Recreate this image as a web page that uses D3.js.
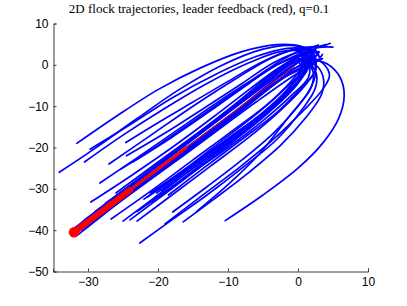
<!DOCTYPE html>
<html><head><meta charset="utf-8">
<script src="https://cdn.jsdelivr.net/npm/d3@7"></script>
<style>body{margin:0;background:#fff}</style>
</head><body>
<svg id="c" width="407" height="306"></svg>
<script>
// ---- data ----
const titleText = "2D flock trajectories, leader feedback (red), q=0.1";
const xTicks = [-30, -20, -10, 0, 10];
const yTicks = [10, 0, -10, -20, -30, -40, -50];
const xDomain = [-35, 10];
const yDomain = [-50, 10];

const leaderPath = [[-32,-40.5],[-28,-35.4],[-24,-30.3],[-20,-25.2],[-16,-20.1],[-12,-15],[-8,-9.9],[-4,-4.8],[-0.5,-0.4]];

const upperPaths = [
  [[-31.6,-19],[-26,-12.5],[-20,-6],[-14,-0.8],[-8,3.2],[-3,4.9],[0.5,4.4],[2,2.5],[1.5,0.5]],
  [[-34.1,-26],[-29,-20.2],[-23,-13],[-17,-6],[-11,-0.2],[-5,3.8],[-1,4.7],[2,3.3],[2.5,1]],
  [[-29.7,-20.4],[-24,-14.5],[-18,-8],[-12,-2.5],[-6,2],[-1.5,4],[1.5,3.6],[2.5,1.8]],
  [[-24.6,-18.8],[-20,-14],[-15,-9],[-10,-4],[-5,0.8],[-1,3.5],[2,3.6],[3,2]],
  [[-28.3,-28.6],[-23,-22.5],[-17,-15.5],[-11,-8.5],[-6,-3],[-2,1.5],[1,3.8],[3.5,4.5],[4.6,5.2]],
  [[-29.6,-33.2],[-24,-27],[-18,-20],[-12,-12.5],[-7,-6],[-3,-1],[0.5,2.5],[3,4.2],[5,4.3]],
  [[-25.3,-25.2],[-20,-19.5],[-14,-12.5],[-8,-5.5],[-3,0],[0,2.5],[2,4.2],[2.9,4.8]],
  [[-24.5,-22],[-19,-16.5],[-13,-10],[-8,-4.5],[-3.5,0.5],[0,3],[2.5,3.5],[3,2]],
  [[-23.6,-23.5],[-18,-17.5],[-12,-10.5],[-7,-4.5],[-3,0],[0,2],[2,2],[1.5,0.5]],
  [[-27,-24],[-21,-17],[-15,-10],[-9,-3.5],[-4,1.5],[0,4],[3,4.5],[4,4.9]],
  [[-30.5,-23.5],[-25,-17],[-19,-10.5],[-13,-4.5],[-7,0.5],[-2.5,3.2],[1,3],[2,1]]
];

const lowerPaths = [
  [[-10.4,-37.7],[-5,-31.5],[0,-25],[3.5,-19],[5.8,-13],[6.6,-7.5],[6,-3],[4.2,0.2],[1.5,1.5]],
  [[-16.4,-38],[-12,-32.5],[-7,-26],[-2.5,-19.5],[1,-13],[3.4,-7],[3.6,-3],[2.5,0],[0.5,1]],
  [[-22.6,-43.1],[-18,-37.5],[-13,-31.5],[-8,-25],[-3,-18],[0.5,-11],[2.5,-5.5],[2.5,-1.5],[1,0.5]],
  [[-17.9,-35.6],[-13,-29.5],[-8,-23],[-3.5,-16.5],[0,-10],[2,-5],[2,-1],[0.5,1]],
  [[-20.9,-33.1],[-15.5,-26.5],[-10,-20],[-5,-13.5],[-1,-7.5],[1.5,-3],[1.5,0.5],[0,1.5]],
  [[-21.1,-31],[-16,-25],[-11,-18.5],[-6,-12],[-2,-6],[0.5,-1.5],[0.5,1]],
  [[-20.2,-31],[-15,-24.5],[-10,-18],[-5,-11.5],[-1.5,-6],[1,-1],[1.5,2]],
  [[-23,-35.5],[-18,-29.5],[-13,-23],[-8,-16.5],[-3.5,-10],[0,-4],[1,0],[0,1.5]],
  [[-24,-37.5],[-19,-31.2],[-14,-24.8],[-9,-18.2],[-4.5,-12],[-1,-6],[1,-1.5],[1.5,2]],
  [[-25,-37.8],[-20,-31.5],[-15,-25],[-10,-18.5],[-5,-12],[-1.5,-6],[0.5,-1],[0,1]],
  [[-26.7,-37.3],[-21,-30.5],[-15,-23],[-9,-15.5],[-4,-9],[-0.5,-3],[1,1],[0.5,2]],
  [[-23,-37.8],[-18,-31.5],[-12.5,-24.5],[-7,-17.5],[-2.5,-11],[1,-5],[2.5,-1],[2,1.5]],
  [[-14.5,-35.5],[-10,-29],[-5.5,-21.5],[-1.5,-13],[1.5,-6.5],[2.5,-2],[1.5,1]],
  [[-19,-38.5],[-14,-32],[-8.5,-25],[-3.5,-18],[0.5,-11.5],[3.5,-6],[4.5,-2.5],[3.5,0.5],[1.5,2]],
  [[-22,-32.5],[-16,-25.2],[-10,-17.8],[-4.5,-11],[-0.5,-5],[1.5,-0.5],[1,2]],
  [[-19.5,-30.5],[-14,-23.8],[-8.5,-17],[-3.5,-10.5],[0,-4.5],[1.5,0],[1,2.5]],
  [[-21.5,-32],[-16,-25.5],[-10.5,-18.8],[-5.5,-12.3],[-1.5,-6.5],[1,-2],[2,1.5]],
  [[-18.5,-31.5],[-13.5,-25],[-8,-18],[-3,-11.5],[0.5,-5.5],[2.5,-1.5],[2.5,1.5]]
];

const bandPaths = [
  [[-31.3,-39.2],[-20,-24.5],[-8,-9],[-2,-1],[1,2],[2,2.5]],
  [[-31.8,-40.8],[-20,-25.6],[-8,-10.2],[-2,-2.2],[1,0.5],[1.5,1.5]],
  [[-30.5,-37.5],[-19,-23],[-8,-8.5],[-3,-1.5],[0.5,2.5],[3,3]],
  [[-30,-38.5],[-18,-23.5],[-7,-9.5],[-1.5,-2.5],[1.5,0.5],[2,2]],
  [[-29,-35.5],[-18,-21.5],[-9,-9.5],[-4,-2.5],[-0.5,1.5],[2,3]],
  [[-28.5,-36.5],[-17,-22],[-7,-9],[-1,-2],[2,1],[3,3.2]],
  [[-27.5,-33.5],[-18,-21.8],[-9,-10],[-4,-3.5],[-1,1],[1.5,3]],
  [[-27,-35],[-16,-21.5],[-6,-9],[-0.5,-2.5],[2.5,0.5],[3.5,2.5]],
  [[-26,-31],[-17,-19.8],[-8,-8.5],[-3,-2],[0,2],[2.5,3.8]],
  [[-25.5,-32.5],[-15,-19.5],[-6,-8],[-1,-1.5],[1.5,1.5],[2,3]],
  [[-30.8,-38],[-20,-24],[-10,-11],[-4,-3.5],[-0.5,1],[0.5,2.5]],
  [[-31,-40],[-19,-25],[-8,-11],[-2,-3],[1.5,0],[3.5,1.5]],
  [[-32.2,-39.8],[-21,-25.5],[-10,-11.6],[-3,-2.8],[0,0.8],[1,2]],
  [[-31.5,-41.2],[-21,-27.2],[-10,-13],[-3,-4],[1,-0.5],[2.5,1]],
  [[-29.5,-37],[-19,-23.8],[-9,-11.2],[-3,-3.2],[0.5,1],[2.5,2.2]]
];

// ---- drawing ----
const svg = d3.select("#c");
const x = d3.scaleLinear().domain(xDomain).range([53, 368]);
const y = d3.scaleLinear().domain(yDomain).range([271.5, 23.5]);

const line = d3.line().x(d => x(d[0])).y(d => y(d[1])).curve(d3.curveCatmullRom);

const g = svg.append("g");
const followers = upperPaths.concat(lowerPaths, bandPaths);
g.selectAll("path.f").data(followers).join("path")
  .attr("class","f")
  .attr("d", line)
  .attr("fill","none")
  .attr("stroke","#0000ff")
  .attr("stroke-width",1.7)
  .attr("stroke-linejoin","round")
  .attr("stroke-linecap","round");

// leader
const straight = d3.line().x(d => x(d[0])).y(d => y(d[1]));
g.append("path").attr("d", straight(leaderPath)).attr("fill","none")
  .attr("stroke","#ff0000").attr("stroke-width",1);
g.append("path").attr("d", straight(leaderPath.filter(d => d[0] <= -16))).attr("fill","none")
  .attr("stroke","#ff0000").attr("stroke-width",3).attr("stroke-linecap","round");
g.append("path").attr("d", straight(leaderPath.filter(d => d[0] <= -24))).attr("fill","none")
  .attr("stroke","#ff0000").attr("stroke-width",6).attr("stroke-linecap","round");
g.append("circle").attr("cx", x(leaderPath[0][0])).attr("cy", y(leaderPath[0][1]))
  .attr("r",5.2).attr("fill","#ff0000");

// axes
const fmt = d3.format("d");
const ax = svg.append("g").attr("transform","translate(0,271.5)")
  .call(d3.axisBottom(x).tickValues(xTicks).tickSize(-3).tickPadding(6).tickFormat(fmt));
const ay = svg.append("g").attr("transform","translate(53.5,0)")
  .call(d3.axisLeft(y).tickValues(yTicks).tickSize(-3).tickPadding(5).tickFormat(fmt));
[ax, ay].forEach(a => {
  a.select(".domain").attr("stroke","#3c3c3c");
  a.selectAll(".tick line").attr("stroke","#3c3c3c");
  a.selectAll("text").attr("fill","#000")
    .style("font-family","'Liberation Sans', Arial, sans-serif").style("font-size","12px");
});

svg.append("text").attr("x", 199).attr("y", 13).attr("text-anchor","middle")
  .style("font-family","'Liberation Serif', 'DejaVu Serif', serif").style("font-size","13px")
  .attr("fill","#000").text(titleText);
</script>
</body></html>
